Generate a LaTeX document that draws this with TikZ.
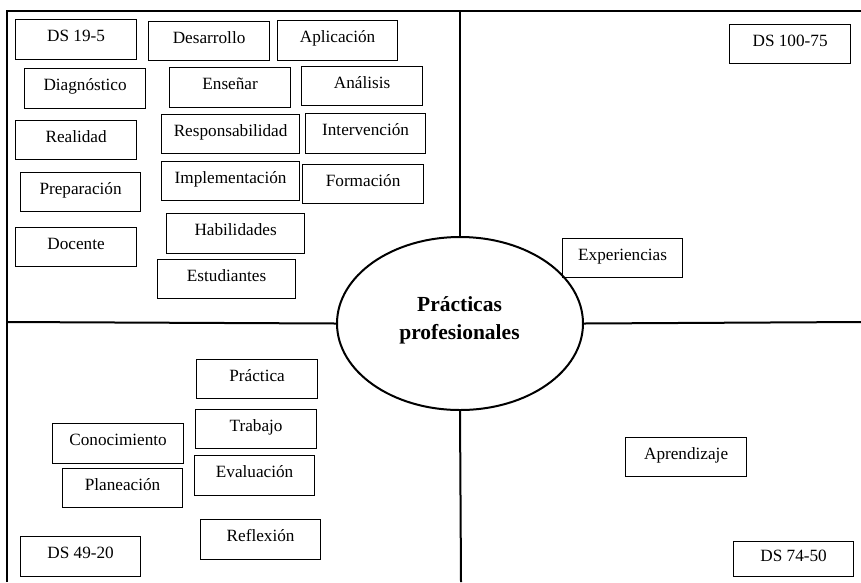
\documentclass[tikz,border=0pt]{standalone}
\usepackage{fontspec}
\setmainfont{Liberation Serif}
\usetikzlibrary{shapes.geometric}
\begin{document}
\begin{tikzpicture}[x=1pt,y=-1pt,
  kw/.style={draw, line width=1.2pt, inner sep=0pt, anchor=north west,
    font=\fontsize{17.2}{19}\selectfont, text height=0.7em, text depth=0.3em},
  quad/.style={line width=2pt},
  hub/.style={draw, ellipse, line width=2pt, inner sep=0pt,
    minimum width=246pt, minimum height=173pt},
  hubtext/.style={align=center, inner sep=0pt,
    font=\fontsize{21.5}{28}\selectfont\bfseries}]
\useasboundingbox (0,0) rectangle (861,582);
% frame coordinates
\coordinate (tl) at (7,11);
\coordinate (tr) at (861,11);
\coordinate (bl) at (7,582);
\coordinate (ml) at (7,322);
\coordinate (mr) at (861,322);
\coordinate (mt) at (460,11);
\coordinate (mb) at (461,582);
% hub
\node[hub] (hub) at (460,323.5) {};
\node[hubtext] (hubtxt) at (459.5,320.5) {Prácticas\\profesionales};
% quadrant lines
\draw[quad] (bl) -- (tl) -- (tr);
\draw[quad] (mt) -- (hub.north);
\draw[quad] (hub.south) -- (mb);
\draw[quad] (ml) -- (hub.west);
\draw[quad] (hub.east) -- (mr);
% top-left
\node[kw, minimum width=121pt, minimum height=40pt] (ds195) at (15,19) {DS 19-5};
\node[kw, minimum width=121pt, minimum height=39pt] (desarrollo) at (148,21) {Desarrollo};
\node[kw, minimum width=120pt, minimum height=40pt] (aplicacion) at (277,20) {Aplicación};
\node[kw, minimum width=121pt, minimum height=40pt] (diagnostico) at (24,68) {Diagnóstico};
\node[kw, minimum width=121pt, minimum height=40pt] (ensenar) at (169,67) {Enseñar};
\node[kw, minimum width=121pt, minimum height=39pt] (analisis) at (301,66) {Análisis};
\node[kw, minimum width=121pt, minimum height=39pt] (realidad) at (15,120) {Realidad};
\node[kw, minimum width=138pt, minimum height=39pt] (responsabilidad) at (161,114) {Responsabilidad};
\node[kw, minimum width=120pt, minimum height=40pt] (intervencion) at (305,113) {Intervención};
\node[kw, minimum width=120pt, minimum height=39pt] (preparacion) at (20,172) {Preparación};
\node[kw, minimum width=138pt, minimum height=39pt] (implementacion) at (161,161) {Implementación};
\node[kw, minimum width=121pt, minimum height=39pt] (formacion) at (302,164) {Formación};
\node[kw, minimum width=121pt, minimum height=39pt] (docente) at (15,227) {Docente};
\node[kw, minimum width=138pt, minimum height=40pt] (habilidades) at (166,213) {Habilidades};
\node[kw, minimum width=138pt, minimum height=39pt] (estudiantes) at (157,259) {Estudiantes};
% top-right
\node[kw, minimum width=121pt, minimum height=39pt] (ds10075) at (729,24) {DS 100-75};
\node[kw, minimum width=120pt, minimum height=39pt] (experiencias) at (562,238) {Experiencias};
% bottom-left
\node[kw, minimum width=121pt, minimum height=39pt] (practica) at (196,359) {Práctica};
\node[kw, minimum width=121pt, minimum height=39pt] (trabajo) at (195,409) {Trabajo};
\node[kw, minimum width=131pt, minimum height=40pt] (conocimiento) at (52,423) {Conocimiento};
\node[kw, minimum width=120pt, minimum height=40pt] (evaluacion) at (194,455) {Evaluación};
\node[kw, minimum width=120pt, minimum height=39pt] (planeacion) at (62,468) {Planeación};
\node[kw, minimum width=120pt, minimum height=40pt] (reflexion) at (200,519) {Reflexión};
\node[kw, minimum width=120pt, minimum height=40pt] (ds4920) at (20,536) {DS 49-20};
% bottom-right
\node[kw, minimum width=121pt, minimum height=39pt] (aprendizaje) at (625,437) {Aprendizaje};
\node[kw, minimum width=120pt, minimum height=35pt] (ds7450) at (733,541) {DS 74-50};
\end{tikzpicture}
\end{document}
